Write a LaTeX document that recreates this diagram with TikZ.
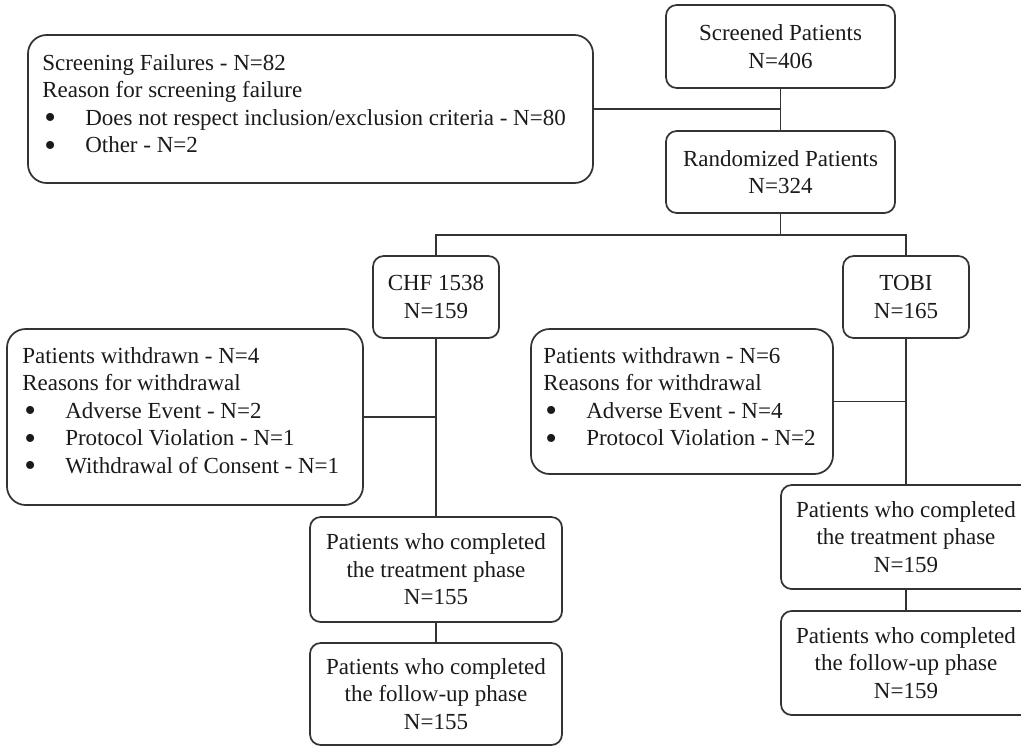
\documentclass[tikz,border=0pt]{standalone}
\usepackage{fontspec}
\usepackage{graphicx}
\setmainfont{Liberation Serif}
\definecolor{linec}{HTML}{333333}
\definecolor{textc}{HTML}{1A1A1A}
\newcommand{\bul}{\hspace*{1.5pt}\makebox[30.75pt][l]{\raisebox{-2.6pt}{\smash{\scalebox{1.45}{\textbullet}}}}}
\tikzset{
  every node/.style={font=\fontsize{17.25pt}{20.6pt}\selectfont, text=textc},
  box/.style 2 args={draw=linec, line width=1.3pt, rounded corners=8pt,
    minimum width=#1*0.75pt, minimum height=#2*0.75pt, align=center, inner sep=0pt},
  bigbox/.style={rounded corners=14pt},
  listtxt/.style={align=left, anchor=north west, inner sep=0pt},
  conn/.style={draw=linec, line width=1.3pt}
}
\begin{document}
\begin{tikzpicture}[x=0.75pt, y=-0.75pt]
\useasboundingbox (0,0) rectangle (1021,746);
% boxes
\node[box={229}{83}] (scr) at (780.5,46.5) {Screened Patients\\N=406};
\node[box={565}{148}, bigbox] (sf) at (310.5,109) {};
\node[listtxt] (sft) at (42,54) {Screening Failures - N=82\\Reason for screening failure\\\bul Does not respect inclusion/exclusion criteria - N=80\\\bul Other - N=2};
\node[box={229}{82}] (rnd) at (780.5,172) {Randomized Patients\\N=324};
\node[box={126}{82}] (chf) at (436,297) {CHF 1538\\N=159};
\node[box={126}{82}] (tobi) at (906,297) {TOBI\\N=165};
\node[box={356}{176}, bigbox] (lw) at (185,417) {};
\node[listtxt] (lwt) at (22,347) {Patients withdrawn - N=4\\Reasons for withdrawal\\\bul Adverse Event - N=2\\\bul Protocol Violation - N=1\\\bul Withdrawal of Consent - N=1};
\node[box={302}{145}, bigbox] (rw) at (682,401.5) {};
\node[listtxt] (rwt) at (543,347) {Patients withdrawn - N=6\\Reasons for withdrawal\\\bul Adverse Event - N=4\\\bul Protocol Violation - N=2};
\node[box={252}{105}] (ct) at (436,569.5) {Patients who completed\\the treatment phase\\N=155};
\node[box={252}{102}] (cf) at (436,694) {Patients who completed\\the follow-up phase\\N=155};
\node[box={250}{104}] (tt) at (906,537) {Patients who completed\\the treatment phase\\N=159};
\node[box={250}{104}] (tf) at (906,663) {Patients who completed\\the follow-up phase\\N=159};
% connectors
\coordinate (split) at (780.5,235);
\draw[conn] (scr) -- (rnd);
\draw[conn] (sf.east) -- (sf.east -| scr.south);
\draw[conn] (rnd.south) -- (split);
\draw[conn] (chf.north) -- (chf.north |- split) -- (tobi.north |- split) -- (tobi.north);
\draw[conn] (chf) -- (ct);
\draw[conn] (ct) -- (cf);
\draw[conn] (lw.east) -- (lw.east -| chf.south);
\draw[conn] (tobi) -- (tt);
\draw[conn] (tt) -- (tf);
\draw[conn] (rw.east) -- (rw.east -| tobi.south);
\end{tikzpicture}
\end{document}
